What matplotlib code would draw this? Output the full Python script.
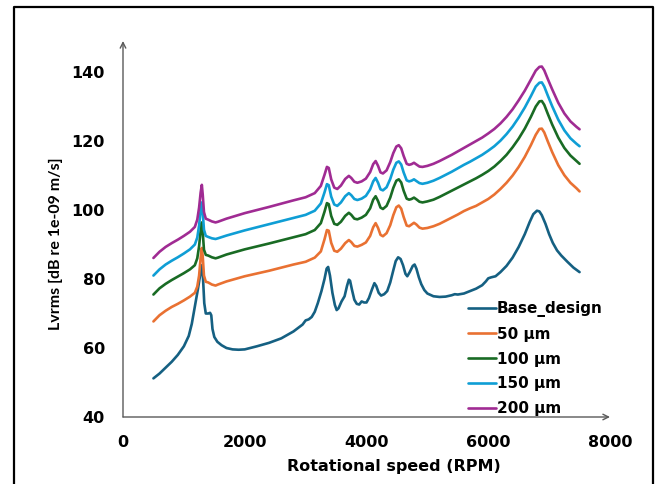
import matplotlib
matplotlib.use('Agg')
from matplotlib import pyplot as plt
from matplotlib.lines import Line2D

plt.rcParams['font.family'] = ['DejaVu Sans']
plt.rcParams['font.weight'] = 'bold'

#####################################################################################################
# Base design curve
rpm_base  = [500, 600, 700, 800, 900, 1000, 1080, 1130, 1180, 1230, 1270, 1295, 1315, 1335, 1360,
             1400, 1430, 1450, 1470, 1500, 1550, 1620, 1700, 1800, 1900, 2000, 2200, 2400, 2600,
             2800, 2950, 3000, 3050, 3100, 3150, 3200, 3260, 3310, 3345, 3370, 3400, 3440, 3480,
             3510, 3540, 3590, 3640, 3680, 3710, 3730, 3760, 3800, 3840, 3880, 3920, 3960, 4000,
             4040, 4090, 4130, 4160, 4200, 4240, 4290, 4340, 4390, 4440, 4480, 4520, 4560, 4600,
             4640, 4670, 4710, 4760, 4790, 4820, 4860, 4900, 4950, 5000, 5100, 5200, 5300, 5400,
             5450, 5500, 5600, 5700, 5800, 5900, 5960, 6000, 6050, 6120, 6200, 6300, 6400, 6500,
             6600, 6680, 6740, 6800, 6840, 6880, 6940, 7000, 7060, 7130, 7200, 7300, 7400, 7500]
lv_base   = [51.2, 52.6, 54.3, 56.0, 58.0, 60.5, 63.5, 67.0, 72.0, 77.0, 81.5, 84.0, 80.0, 73.0, 70.0,
             70.0, 70.2, 69.5, 65.5, 63.2, 61.8, 60.8, 60.0, 59.6, 59.5, 59.6, 60.5, 61.5, 62.8,
             64.8, 66.8, 68.0, 68.3, 69.0, 70.5, 73.0, 76.5, 80.0, 83.0, 83.5, 81.0, 76.0, 72.5,
             71.0, 71.5, 73.5, 75.0, 78.0, 79.8, 79.5, 77.0, 74.0, 72.8, 72.6, 73.5, 73.2, 73.2,
             74.5, 77.0, 78.8, 78.0, 76.0, 75.2, 75.6, 76.5, 79.0, 82.5, 85.2, 86.3, 85.8, 84.0,
             81.5, 80.8, 82.0, 83.8, 84.2, 83.0, 80.5, 78.5, 76.8, 75.8, 75.0, 74.8, 74.9, 75.3,
             75.6, 75.5, 75.8, 76.5, 77.2, 78.2, 79.3, 80.2, 80.5, 80.8, 82.0, 83.8, 86.2, 89.3,
             93.0, 96.5, 98.8, 99.8, 99.6, 98.5, 96.0, 93.0, 90.5, 88.3, 86.8, 85.0, 83.3, 82.0]

# clearance curves share one speed grid
rpm_mod   = [500, 600, 700, 800, 900, 1000, 1100, 1180, 1220, 1250, 1275, 1295, 1310, 1330, 1360,
             1400, 1460, 1520, 1560, 1700, 2000, 2400, 2800, 3000, 3150, 3250, 3310, 3350, 3380,
             3420, 3470, 3520, 3580, 3650, 3710, 3750, 3800, 3850, 3920, 3990, 4060, 4110, 4150,
             4190, 4230, 4270, 4330, 4390, 4440, 4490, 4530, 4570, 4610, 4660, 4700, 4740, 4780,
             4820, 4870, 4920, 5000, 5100, 5200, 5300, 5400, 5500, 5600, 5700, 5800, 5900, 6000,
             6100, 6200, 6300, 6400, 6500, 6600, 6700, 6780, 6840, 6880, 6920, 6980, 7050, 7150,
             7250, 7350, 7450, 7500]
lv_50     = [67.7, 69.5, 70.8, 71.9, 72.8, 73.8, 74.9, 76.0, 77.8, 81.0, 86.0, 89.0, 86.5, 81.0, 79.2,
             79.0, 78.4, 78.1, 78.4, 79.3, 80.8, 82.4, 84.2, 85.0, 86.2, 88.0, 91.5, 94.2, 94.0,
             90.5, 88.2, 87.9, 88.8, 90.4, 91.3, 90.7, 89.6, 89.4, 89.9, 90.6, 92.5, 95.0, 96.2,
             94.8, 92.8, 92.4, 93.3, 95.6, 98.5, 100.8, 101.3, 100.4, 98.0, 95.5, 95.3, 95.8, 96.3,
             95.8, 94.9, 94.6, 94.8, 95.3, 96.0, 96.9, 97.8, 98.7, 99.7, 100.5, 101.2, 102.2, 103.2,
             104.5, 106.1, 107.9, 110.0, 112.5, 115.4, 118.8, 121.8, 123.5, 123.6, 122.5, 119.8, 116.8, 113.0,
             110.1, 107.9, 106.3, 105.4]
lv_100    = [75.5, 77.3, 78.6, 79.7, 80.7, 81.7, 82.8, 84.0, 86.0, 89.5, 94.0, 96.4, 93.5, 88.5, 87.0,
             86.8, 86.3, 86.0, 86.2, 87.1, 88.6, 90.3, 92.1, 93.0, 94.2, 96.2, 99.5, 102.0, 101.7,
             98.3, 96.0, 95.7, 96.6, 98.3, 99.2, 98.6, 97.5, 97.3, 97.8, 98.6, 100.5, 103.0, 104.0,
             102.6, 100.7, 100.3, 101.2, 103.6, 106.4, 108.5, 108.9, 108.0, 105.6, 103.3, 103.0, 103.2, 103.6,
             103.1, 102.4, 102.2, 102.5, 103.0, 103.8, 104.7, 105.6, 106.5, 107.4, 108.3, 109.2, 110.2, 111.3,
             112.6, 114.2, 116.0, 118.2, 120.7, 123.6, 127.0, 130.0, 131.5, 131.6, 130.5, 127.8, 124.8, 121.0,
             118.0, 115.8, 114.2, 113.4]
lv_150    = [81.0, 82.8, 84.2, 85.3, 86.3, 87.4, 88.6, 90.0, 92.0, 95.5, 99.8, 102.2, 99.3, 94.3, 92.5,
             92.2, 91.8, 91.6, 91.8, 92.6, 94.1, 95.9, 97.7, 98.6, 99.8, 101.9, 105.1, 107.5, 107.2,
             103.9, 101.6, 101.2, 102.2, 104.0, 104.9, 104.3, 103.2, 102.9, 103.3, 104.1, 106.0, 108.3, 109.3,
             107.9, 106.0, 105.7, 106.6, 109.0, 111.7, 113.7, 114.1, 113.2, 110.9, 108.6, 108.3, 108.5, 108.9,
             108.4, 107.8, 107.6, 107.9, 108.5, 109.3, 110.2, 111.1, 112.1, 113.1, 114.0, 115.0, 116.0, 117.2,
             118.5, 120.1, 122.0, 124.2, 126.8, 129.7, 133.0, 135.8, 136.9, 137.0, 135.8, 133.1, 130.1, 126.2,
             123.1, 120.8, 119.2, 118.5]
lv_200    = [86.1, 87.9, 89.3, 90.4, 91.4, 92.5, 93.7, 95.1, 97.2, 100.7, 105.0, 107.3, 104.4, 99.4, 97.5,
             97.2, 96.7, 96.4, 96.6, 97.5, 99.1, 100.9, 102.8, 103.7, 104.9, 107.0, 110.2, 112.5, 112.2,
             108.9, 106.5, 106.1, 107.1, 109.0, 109.9, 109.3, 108.2, 107.9, 108.3, 109.1, 111.0, 113.3, 114.2,
             112.8, 110.9, 110.6, 111.5, 113.9, 116.5, 118.4, 118.8, 117.9, 115.7, 113.4, 113.1, 113.3, 113.7,
             113.2, 112.6, 112.5, 112.8, 113.4, 114.2, 115.1, 116.0, 117.0, 118.0, 119.0, 120.0, 121.0, 122.2,
             123.5, 125.1, 127.0, 129.2, 131.8, 134.6, 137.8, 140.4, 141.5, 141.6, 140.5, 137.9, 135.0, 131.1,
             128.0, 125.7, 124.1, 123.4]

labels  = ['Base_design', '50 \u00b5m', '100 \u00b5m', '150 \u00b5m', '200 \u00b5m']
colours = ['#156082', '#E97132', '#196B24', '#0F9ED5', '#A02B93']
xticks  = [0, 2000, 4000, 6000, 8000]
yticks  = [40, 60, 80, 100, 120, 140]

#####################################################################################################
W, H = 656, 484
fig = plt.figure(figsize=(W/100., H/100.), dpi=100)
ax  = fig.add_axes([123./W, 67./H, 487./W, 376./H])

series = [(rpm_base, lv_base), (rpm_mod, lv_50), (rpm_mod, lv_100), (rpm_mod, lv_150), (rpm_mod, lv_200)]
for (xx, yy), lab, col in zip(series, labels, colours):
    ax.plot(xx, yy, color=col, lw=1.9, label=lab, solid_capstyle='round', solid_joinstyle='round')

ax.set_xlim(0, 8000)
ax.set_ylim(40, 149)
ax.set_xticks(xticks)
ax.set_yticks(yticks)
ax.tick_params(length=0, labelsize=11.5, pad=13)
for s in ax.spines.values():
    s.set_visible(False)

# axis lines with open arrow heads
ax.annotate('', xy=(8000, 40), xytext=(0, 40), annotation_clip=False,
            arrowprops=dict(arrowstyle='->', color='#595959', lw=1, shrinkA=0, shrinkB=0))
ax.annotate('', xy=(0, 149), xytext=(0, 40), annotation_clip=False,
            arrowprops=dict(arrowstyle='->', color='#595959', lw=1, shrinkA=0, shrinkB=0))

fig.text(394./W, 1-466./H, 'Rotational speed (RPM)', ha='center', va='center', fontsize=11.5, fontweight='bold')
fig.text(56./W, 1-244./H, 'Lvrms [dB re 1e-09 m/s]', ha='center', va='center', rotation=90,
         fontsize=11.5, fontweight='bold', family=['Lato', 'DejaVu Sans'])

ax.legend(loc='upper left', bbox_to_anchor=(468./W, 1-301./H), bbox_transform=fig.transFigure,
          frameon=False, fontsize=11, handlelength=1.8, handletextpad=0.1, labelspacing=0.64,
          borderpad=0, borderaxespad=0)

# outer frame (bottom edge cut off)
fig.add_artist(Line2D([14./W, 14./W, 653./W, 653./W], [0, 1-7./H, 1-7./H, 0],
                      transform=fig.transFigure, color='black', lw=1.6))

fig.savefig('out.png', dpi=100)
